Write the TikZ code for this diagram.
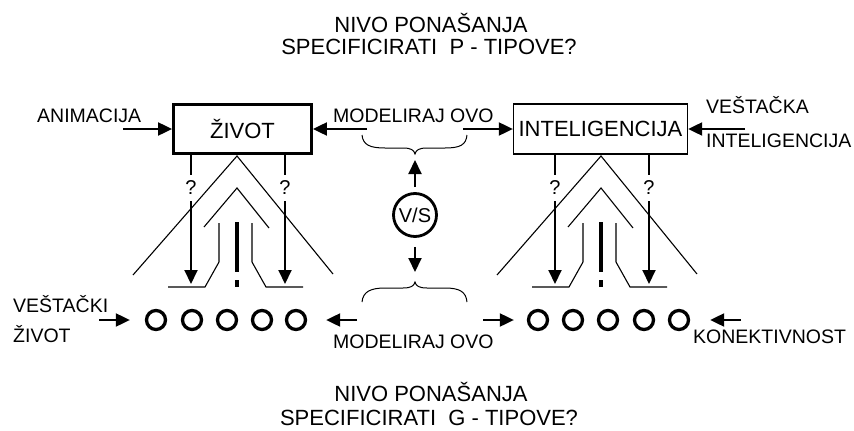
\documentclass[tikz,border=0pt]{standalone}
\usepackage{fontspec}
\setmainfont{Liberation Sans}
\usetikzlibrary{arrows.meta}

\begin{document}
\begin{tikzpicture}[x=1pt,y=-1pt,
  lbl/.style={font=\fontsize{19.5}{22}\selectfont, inner sep=0pt, anchor=base west},
  ttl/.style={font=\fontsize{22}{26}\selectfont, inner sep=0pt, anchor=base},
  boxtxt/.style={draw, font=\fontsize{22}{26}\selectfont, inner sep=0pt},
  arr/.style={line width=2pt, -{Triangle[length=14pt,width=13pt]}},
  thinline/.style={line width=1.1pt},
  unit/.style={circle, draw, line width=3.3pt, minimum size=19pt, inner sep=0pt},
  qm/.style={font=\fontsize{20}{22}\selectfont, inner xsep=1pt, inner ysep=6pt},
]
\useasboundingbox (0,0) rectangle (854,431);

% titles
\node[ttl] (t1) at (431,32) {NIVO PONAŠANJA};
\node[ttl] (t2) at (429,54) {SPECIFICIRATI\ \ P - TIPOVE?};
\node[ttl] (b1) at (431,401) {NIVO PONAŠANJA};
\node[ttl] (b2) at (429,425) {SPECIFICIRATI\ \ G - TIPOVE?};

% the two boxes
\node[boxtxt, line width=2.8pt, minimum width=138pt, minimum height=49pt] (life) at (242.5,129) {ŽIVOT};
\node[boxtxt, line width=1.3pt, minimum width=174pt, minimum height=50pt] (intel) at (600.5,129) {INTELIGENCIJA};

% side labels
\node[lbl] (anim) at (37,122) {ANIMACIJA};
\node[lbl] (modtop) at (333,122) {MODELIRAJ OVO};
\node[lbl] (vai1) at (706,113) {VEŠTAČKA};
\node[lbl] (vai2) at (706,147) {INTELIGENCIJA};
\node[lbl] (vz1) at (13,312) {VEŠTAČKI};
\node[lbl] (vz2) at (13,342) {ŽIVOT};
\node[lbl] (modbot) at (333,348) {MODELIRAJ OVO};
\node[lbl] (kon) at (693,343) {KONEKTIVNOST};

% arrows into the boxes
\coordinate (animS) at (123,129);
\coordinate (modL) at (367,129);
\coordinate (modR) at (463,129);
\coordinate (vaiS) at (745,129);
\draw[arr] (animS) -- (animS -| life.west);
\draw[arr] (modL) -- (modL -| life.east);
\draw[arr] (modR) -- (modR -| intel.west);
\draw[arr] (vaiS) -- (vaiS -| intel.east);

% V/S and the braces
\node[circle, draw, line width=2.8pt, minimum size=43pt, inner sep=0pt,
      font=\fontsize{20}{22}\selectfont] (vs) at (415,215) {V/S};
\coordinate (btop) at (415,154);
\coordinate (bbot) at (415,282);
\draw[line width=1pt] (362,135) .. controls (363,145) and (370,148) .. (385,148)
  -- (403,148) .. controls (411,148) and (414,150) .. (btop)
  .. controls (416,150) and (419,148) .. (427,148) -- (445,148)
  .. controls (460,148) and (466,145) .. (467,135);
\draw[line width=1pt] (362,302) .. controls (363,292) and (370,288) .. (385,288)
  -- (403,288) .. controls (411,288) and (414,286) .. (bbot)
  .. controls (416,286) and (419,288) .. (427,288) -- (445,288)
  .. controls (460,288) and (466,292) .. (467,302);
\draw[arr, shorten <=5pt, shorten >=6pt] (vs) -- (btop);
\draw[arr, shorten <=9pt, shorten >=10pt] (vs) -- (bbot);

% rows of units
\foreach \i/\x in {1/156,2/192,3/227,4/262,5/296}
  \node[unit] (l\i) at (\x,320) {};
\foreach \i/\x in {1/538,2/573,3/608,4/644,5/679}
  \node[unit] (r\i) at (\x,320) {};
\coordinate (vzS) at (99,320);
\coordinate (mbL) at (357,320);
\coordinate (mbR) at (483,320);
\coordinate (konS) at (741,320);
\draw[arr, shorten >=15pt] (vzS) -- (l1);
\draw[arr, shorten >=19pt] (mbL) -- (l5);
\draw[arr, shorten >=13pt] (mbR) -- (r1);
\draw[arr, shorten >=20pt] (konS) -- (r5);

% the structure below each box
\foreach \c/\b in {237/life,601/intel}{
  \begin{scope}[shift={(\c,0)}]
    \node[qm] (\b-qa) at (-46,188) {?};
    \node[qm] (\b-qb) at (48,188) {?};
    \coordinate (\b-ta) at (-46,284);
    \coordinate (\b-tb) at (48,284);
    \draw[line width=2pt] (\b.south -| \b-qa) -- (\b-qa);
    \draw[line width=2pt] (\b.south -| \b-qb) -- (\b-qb);
    \draw[arr] (\b-qa) -- (\b-ta);
    \draw[arr] (\b-qb) -- (\b-tb);
    % outer wedge
    \draw[thinline] (-104,275) -- (0,156) -- (96,274);
    % inner chevron
    \draw[thinline] (-33,227) -- (0,188) -- (32,228);
    % side brackets
    \draw[thinline] (-69,287) -- (-32,287) -- (-18,262) -- (-18,223);
    \draw[thinline] (15,223) -- (15,262) -- (29,287) -- (66,287);
    % exclamation bar
    \draw[line width=4pt] (0,222) -- (0,272);
    \draw[line width=4pt] (0,280) -- (0,287);
  \end{scope}
}
\end{tikzpicture}
\end{document}
